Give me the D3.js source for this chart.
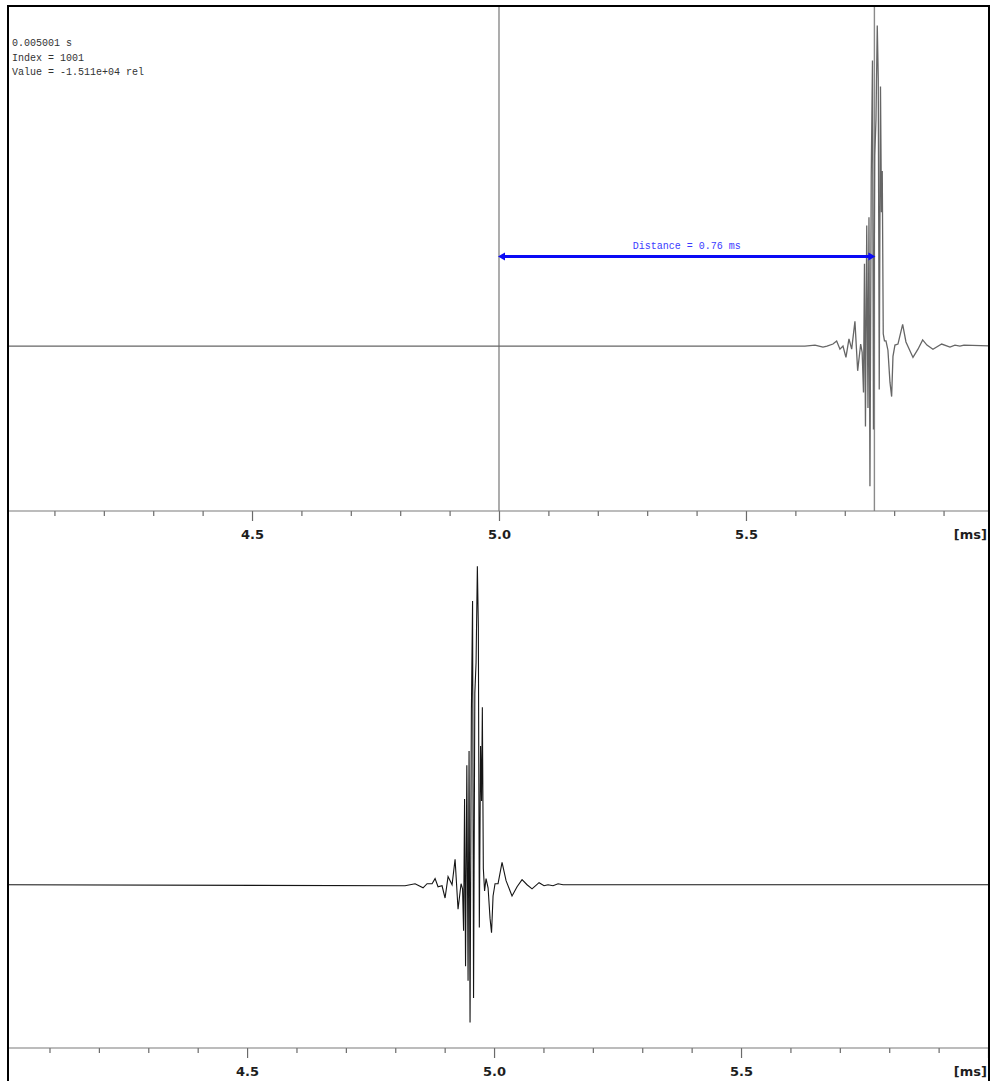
<!DOCTYPE html>
<html>
<head>
<meta charset="utf-8">
<script src="https://cdn.jsdelivr.net/npm/d3@7"></script>
<style>
  html, body { margin: 0; padding: 0; background: #fff; }
  svg { display: block; }
</style>
</head>
<body>
<svg id="chart" width="991" height="1081"></svg>
<script>
// Received echo (upper view): [time ms, amplitude x1e3 rel]
const echo = [
  [4.0, 0], [5.6194, 0], [5.6397, 0.1], [5.6559, -0.1], [5.6640, 0], [5.6761, 0.2],
  [5.6836, 0.5], [5.6903, -0.3], [5.6964, 0], [5.7024, -1.1], [5.7085, 0.7], [5.7140, -0.3],
  [5.7206, 2.4], [5.7261, -2.4], [5.7322, 0.2], [5.7352, -0.6], [5.7379, -4.5], [5.7399, 8.0],
  [5.7419, -7.8], [5.7445, 11.7], [5.7470, -6.0], [5.7490, 12.5], [5.7510, -13.6], [5.7536, 16.5],
  [5.7561, 27.7], [5.7581, -8.1], [5.7607, 18.5], [5.7632, 22.0], [5.7658, 31.1], [5.7678, 26.0],
  [5.7698, -4.2], [5.7723, 25.2], [5.7743, 13.0], [5.7759, 17.0], [5.7779, 1.2], [5.7804, 0.5],
  [5.7834, 0.5], [5.7874, -0.4], [5.7915, -3.5], [5.7949, -4.9], [5.7976, -1.0], [5.8016, 0.1],
  [5.8077, 0.2], [5.8172, 2.1], [5.8239, 0.4], [5.8381, -1.1], [5.8482, -0.3], [5.8577, 0.6],
  [5.8664, 0.1], [5.8785, -0.3], [5.8962, 0.2], [5.9130, -0.1], [5.9231, 0.1], [5.9332, 0],
  [5.9413, 0.1], [6.0, 0]
];

// Transmitted reference pulse (lower view): [time ms, amplitude x1e3 rel]
const pulse = [
  [4.0, 0], [4.8198, -0.1], [4.8401, 0.1], [4.8563, -0.3], [4.8644, 0.1], [4.8745, 0.1],
  [4.8806, 0.6], [4.8866, -0.2], [4.8947, -0.1], [4.9008, -1.3], [4.9069, 0.8], [4.9150, 0],
  [4.9211, 2.5], [4.9271, -2.4], [4.9332, 0.1], [4.9362, -0.4], [4.9383, -4.5], [4.9403, 8.4],
  [4.9423, -8.0], [4.9449, 11.7], [4.9474, -9.4], [4.9494, 13.1], [4.9514, -13.5], [4.9541, 17.0],
  [4.9565, 27.8], [4.9585, -11.1], [4.9611, 18.8], [4.9636, 21.8], [4.9662, 31.2], [4.9682, 25.3],
  [4.9702, -4.2], [4.9727, 13.6], [4.9747, 8.2], [4.9763, 17.4], [4.9783, 1.6], [4.9808, -0.6],
  [4.9838, 0.6], [4.9879, -0.3], [4.9919, -3.3], [4.9949, -4.7], [4.9980, -1.1], [5.0020, 0.1],
  [5.0081, 0.1], [5.0162, 2.2], [5.0243, 0.4], [5.0364, -1.1], [5.0466, -0.2], [5.0567, 0.5],
  [5.0668, 0], [5.0769, -0.4], [5.0911, 0.2], [5.1012, -0.1], [5.1093, 0], [5.1194, -0.1],
  [5.1296, 0.1], [5.1397, 0], [6.0, 0]
];

const tickValues = [4.1, 4.2, 4.3, 4.4, 4.5, 4.6, 4.7, 4.8, 4.9, 5.0,
                    5.1, 5.2, 5.3, 5.4, 5.5, 5.6, 5.7, 5.8, 5.9, 6.0];
const labelledTicks = [4.5, 5.0, 5.5];
const tickLabels = ["4.5", "5.0", "5.5"];
const unitLabel = "[ms]";

const cursorTimes = [5.0, 5.76];
const arrowLevel = 8.7;
const distanceLabel = "Distance = 0.76 ms";
const readout = ["0.005001 s", "Index = 1001", "Value = -1.511e+04 rel"];

const svg = d3.select("#chart");
const left = 8, right = 989;

const views = [
  { data: echo,  domain: [4.006, 5.992], top: 6,   axisY: 511,  colour: "#666", width: 1.3, id: "clipTop" },
  { data: pulse, domain: [4.016, 6.002], top: 548, axisY: 1048, colour: "#151515", width: 1.1, id: "clipBottom" }
];

views.forEach(v => {
  v.x = d3.scaleLinear().domain(v.domain).range([left, right]);
  v.y = d3.scaleLinear().domain([-16, 33]).range([v.axisY, v.top]);
  svg.append("clipPath").attr("id", v.id)
    .append("rect").attr("x", left).attr("y", v.top)
    .attr("width", right - left).attr("height", v.axisY - v.top);
});

// Measurement cursors in the upper view
const up = views[0];
svg.append("g").attr("clip-path", "url(#clipTop)")
  .selectAll("line.cursor").data(cursorTimes).join("line")
  .attr("class", "cursor")
  .attr("x1", d => up.x(d)).attr("x2", d => up.x(d))
  .attr("y1", up.top).attr("y2", up.axisY)
  .attr("stroke", "#8a8a8a").attr("stroke-width", 1.4);

// Waveforms
views.forEach(v => {
  const line = d3.line().x(d => v.x(d[0])).y(d => v.y(d[1]));
  svg.append("path")
    .attr("clip-path", `url(#${v.id})`)
    .attr("d", line(v.data))
    .attr("fill", "none")
    .attr("stroke", v.colour)
    .attr("stroke-width", v.width)
    .attr("stroke-linejoin", "miter");
});

// Time axes
views.forEach(v => {
  const axis = d3.axisBottom(v.x)
    .tickValues(tickValues)
    .tickSize(0)
    .tickFormat(d => {
      const i = labelledTicks.findIndex(t => Math.abs(t - d) < 1e-9);
      return i >= 0 ? tickLabels[i] : "";
    });
  const g = svg.append("g").attr("transform", `translate(0,${v.axisY})`).call(axis);
  g.select(".domain").remove();
  g.selectAll(".tick line")
    .attr("y2", d => (Math.abs(d * 2 - Math.round(d * 2)) < 1e-9 ? 10 : 5))
    .attr("stroke", "#6a6a6a").attr("stroke-width", 1.2);
  g.selectAll(".tick text")
    .attr("y", 28).attr("dy", 0)
    .attr("fill", "#1e1e1e")
    .style("font-family", "'DejaVu Sans', sans-serif")
    .style("font-weight", "bold")
    .style("font-size", "13px");
  g.append("line")
    .attr("x1", left).attr("x2", right).attr("y1", 0).attr("y2", 0)
    .attr("stroke", "#7a7a7a").attr("stroke-width", 1.2);
  g.append("text")
    .attr("x", right - 2).attr("y", 28)
    .attr("text-anchor", "end")
    .attr("fill", "#1e1e1e")
    .style("font-family", "'DejaVu Sans', sans-serif")
    .style("font-weight", "bold")
    .style("font-size", "13px")
    .text(unitLabel);
});

// Distance arrow between cursors
const ax0 = up.x(cursorTimes[0]), ax1 = up.x(cursorTimes[1]), ay = up.y(arrowLevel);
const blue = "#0b0bf5";
svg.append("line")
  .attr("x1", ax0 + 3).attr("x2", ax1 - 3).attr("y1", ay).attr("y2", ay)
  .attr("stroke", blue).attr("stroke-width", 3);
svg.append("path")
  .attr("d", `M${ax0 - 1},${ay} L${ax0 + 6},${ay - 4} L${ax0 + 6},${ay + 4} Z`)
  .attr("fill", blue);
svg.append("path")
  .attr("d", `M${ax1 + 1},${ay} L${ax1 - 6},${ay - 4} L${ax1 - 6},${ay + 4} Z`)
  .attr("fill", blue);
svg.append("text")
  .attr("x", (ax0 + ax1) / 2).attr("y", ay - 7.5)
  .attr("text-anchor", "middle")
  .attr("fill", "#3a3aff")
  .style("font-family", "'Liberation Mono', monospace")
  .style("font-size", "10px")
  .text(distanceLabel);

// Cursor readout
svg.append("g").selectAll("text").data(readout).join("text")
  .attr("x", 12).attr("y", (d, i) => 46 + i * 14.5)
  .attr("fill", "#333")
  .style("font-family", "'Liberation Mono', monospace")
  .style("font-size", "10px")
  .text(d => d);

// Frame
svg.append("path")
  .attr("d", `M${left},1081 L${left},6 L${right},6 L${right},1081`)
  .attr("fill", "none").attr("stroke", "#000").attr("stroke-width", 2);
</script>
</body>
</html>
